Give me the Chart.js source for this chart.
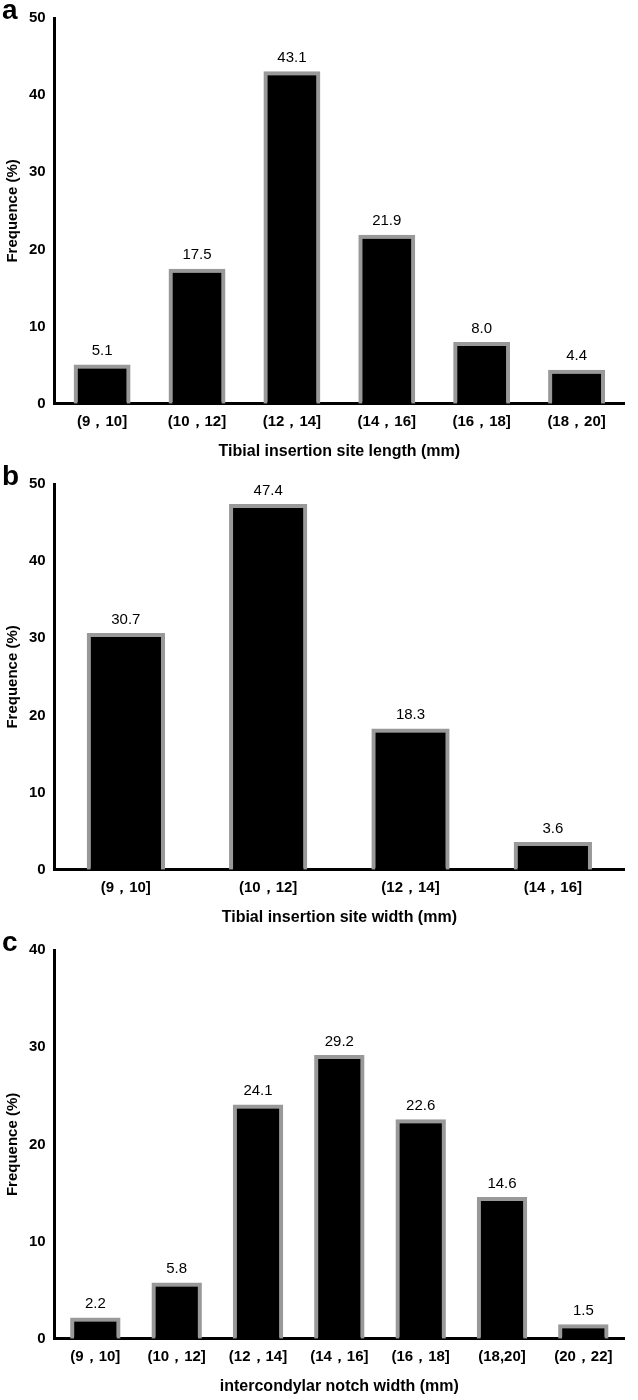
<!DOCTYPE html>
<html>
<head>
<meta charset="utf-8">
<script src="https://cdn.jsdelivr.net/npm/chart.js@4"></script>
<style>
body { margin: 0; background: #fff; font-family: Arial, "Liberation Sans", sans-serif; }
.panel { position: absolute; left: 0; width: 638px; }
.letter { position: absolute; left: 2px; font-weight: bold; font-size: 28px; z-index: 2; }
</style>
</head>
<body>
<div class="panel" style="top:0;height:465px"><div class="letter" style="top:-6px">a</div><canvas id="chartA"></canvas></div>
<div class="panel" style="top:466px;height:465px"><div class="letter" style="top:-6px">b</div><canvas id="chartB"></canvas></div>
<div class="panel" style="top:932px;height:468px"><div class="letter" style="top:-6px">c</div><canvas id="chartC"></canvas></div>
<script>
const lengthCats = ['(9，10]', '(10，12]', '(12，14]', '(14，16]', '(16，18]', '(18，20]'];
const lengthVals = [5.1, 17.5, 43.1, 21.9, 8.0, 4.4];
const widthCats = ['(9，10]', '(10，12]', '(12，14]', '(14，16]'];
const widthVals = [30.7, 47.4, 18.3, 3.6];
const notchCats = ['(9，10]', '(10，12]', '(12，14]', '(14，16]', '(16，18]', '(18,20]', '(20，22]'];
const notchVals = [2.2, 5.8, 24.1, 29.2, 22.6, 14.6, 1.5];

const valueLabels = {
    id: 'valueLabels',
    afterDatasetsDraw(chart) {
        const ctx = chart.ctx;
        const meta = chart.getDatasetMeta(0);
        ctx.save();
        ctx.font = '15px Arial';
        ctx.fillStyle = '#000';
        ctx.textAlign = 'center';
        ctx.textBaseline = 'bottom';
        meta.data.forEach((bar, i) => {
            ctx.fillText(chart.data.datasets[0].data[i].toFixed(1), bar.x, bar.y - 6);
        });
        ctx.restore();
    }
};

function makeChart(id, cats, vals, yMax, xTitle, barPct) {
    new Chart(document.getElementById(id), {
        type: 'bar',
        data: {
            labels: cats,
            datasets: [{
                data: vals,
                backgroundColor: '#000',
                borderColor: '#999',
                borderWidth: 4,
                borderSkipped: 'bottom',
                categoryPercentage: 1,
                barPercentage: barPct
            }]
        },
        options: {
            responsive: true,
            maintainAspectRatio: false,
            animation: false,
            layout: { padding: { top: 18, right: 14, left: 0 } },
            plugins: { legend: { display: false }, tooltip: { enabled: false } },
            scales: {
                x: {
                    grid: { display: false, drawTicks: true, tickLength: 6, tickColor: '#000' },
                    border: { color: '#000', width: 3 },
                    ticks: { color: '#000', font: { size: 15, weight: 'bold' } },
                    title: { display: true, text: xTitle, color: '#000', font: { size: 16, weight: 'bold' }, padding: { top: 8 } }
                },
                y: {
                    min: 0, max: yMax,
                    grid: { display: false, drawTicks: true, tickLength: 6, tickColor: '#000' },
                    border: { color: '#000', width: 3 },
                    ticks: { stepSize: 10, color: '#000', font: { size: 15, weight: 'bold' } },
                    title: { display: true, text: 'Frequence (%)', color: '#000', font: { size: 15, weight: 'bold' } }
                }
            }
        },
        plugins: [valueLabels]
    });
}

makeChart('chartA', lengthCats, lengthVals, 50, 'Tibial insertion site length (mm)', 0.6);
makeChart('chartB', widthCats, widthVals, 50, 'Tibial insertion site width (mm)', 0.55);
makeChart('chartC', notchCats, notchVals, 40, 'intercondylar notch width (mm)', 0.62);
</script>
</body>
</html>
